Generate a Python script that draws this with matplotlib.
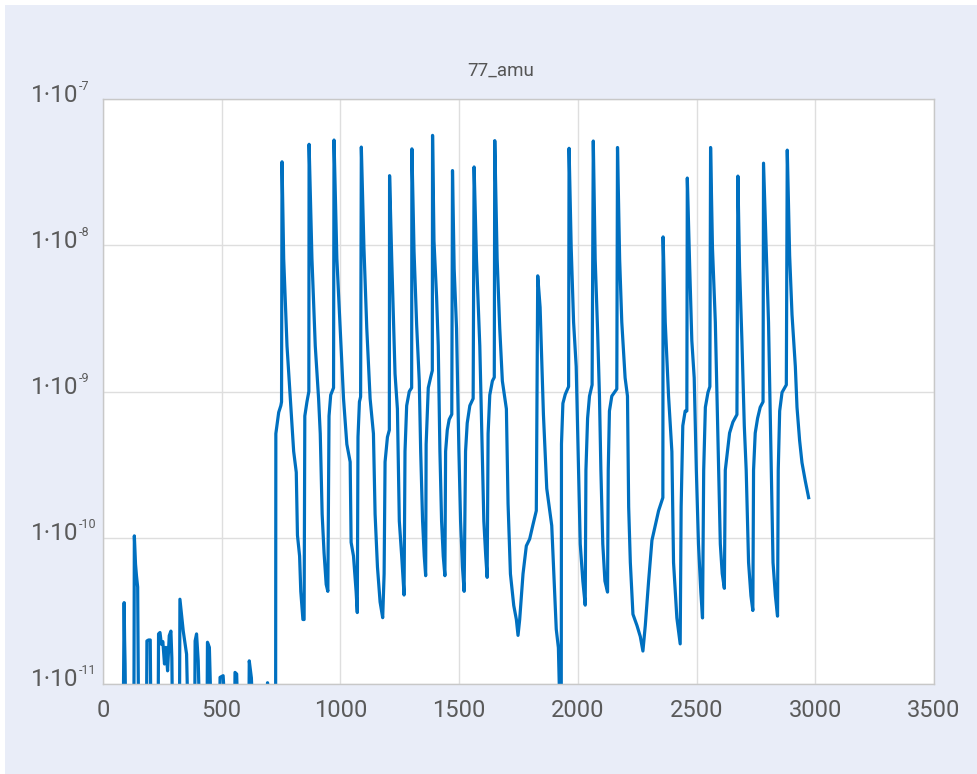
import numpy as np
import matplotlib
matplotlib.use('Agg')
import matplotlib.pyplot as plt
import matplotlib.transforms as mtransforms
from matplotlib.patches import Rectangle

plt.rcParams['font.family'] = ['Roboto', 'DejaVu Sans']

# low-level bursts before the cycling starts (5e-12 = below the axis floor)
baseline_t = [85, 89, 91, 93, 96,
              130, 132, 137, 141, 146, 150,
              183, 185, 192, 199, 202,
              232, 234, 240, 246, 252, 259, 265, 272, 279, 286, 290, 293,
              322, 324, 338, 352, 359,
              386, 388, 394, 401, 408,
              438, 440, 448, 457,
              491, 493, 506, 518,
              554, 556, 563, 569,
              614, 616, 625, 633,
              692, 693, 695, 727]
baseline_v = [5e-12, 3.6e-11, 2.0e-11, 1.37e-11, 5e-12,
              5e-12, 1.03e-10, 6.6e-11, 5.5e-11, 4.6e-11, 5e-12,
              5e-12, 1.97e-11, 2.0e-11, 2.0e-11, 5e-12,
              5e-12, 2.2e-11, 2.25e-11, 1.87e-11, 1.95e-11, 1.37e-11, 1.78e-11, 1.23e-11, 2.14e-11, 2.3e-11, 1.5e-11, 5e-12,
              5e-12, 3.8e-11, 2.3e-11, 1.6e-11, 5e-12,
              5e-12, 1.97e-11, 2.2e-11, 1.44e-11, 5e-12,
              5e-12, 1.93e-11, 1.78e-11, 5e-12,
              5e-12, 1.11e-11, 1.14e-11, 5e-12,
              5e-12, 1.2e-11, 1.17e-11, 5e-12,
              5e-12, 1.44e-11, 1.1e-11, 5e-12,
              5e-12, 1.02e-11, 5e-12, 5e-12]

# main cycling section
cycles_t = [728, 730, 740, 749, 752, 754, 761, 775, 789, 803, 814, 819, 828, 833, 842, 847,
            850, 859, 867, 868, 880, 894, 908, 915, 923, 931, 940, 947,
            952, 959, 971, 973, 985, 999, 1013, 1027, 1041, 1045, 1055, 1066, 1071,
            1074, 1080, 1085, 1088, 1099, 1111, 1125, 1139, 1146, 1156, 1167, 1178, 1184,
            1188, 1198, 1206, 1207, 1216, 1230, 1240, 1248, 1258, 1268,
            1272, 1279, 1290, 1300, 1301, 1310, 1321, 1332, 1338, 1346, 1353, 1359,
            1361, 1370, 1380, 1387, 1388, 1394, 1405, 1412, 1419, 1426, 1433, 1440,
            1443, 1450, 1458, 1469, 1472, 1479, 1489, 1499, 1506, 1514, 1521,
            1527, 1534, 1545, 1559, 1563, 1573, 1587, 1597, 1604, 1612, 1618,
            1622, 1629, 1640, 1648, 1650, 1660, 1671, 1682, 1699, 1706, 1716, 1730, 1741, 1748,
            1755, 1769, 1783, 1797, 1811, 1825, 1831, 1841, 1855, 1869, 1890, 1900, 1909, 1918, 1926,
            1930, 1931, 1937, 1947, 1961, 1963, 1972, 1982, 1993, 2003, 2010, 2021, 2031,
            2034, 2041, 2049, 2060, 2065, 2073, 2083, 2091, 2097, 2105, 2114, 2125,
            2128, 2133, 2143, 2164, 2167, 2176, 2185, 2199, 2209, 2214, 2221, 2232, 2249, 2263, 2274,
            2284, 2298, 2312, 2326, 2340, 2358, 2359, 2368, 2382, 2396, 2403, 2417, 2431,
            2435, 2442, 2452, 2459, 2461, 2471, 2480, 2490, 2499, 2508, 2518, 2525,
            2530, 2537, 2548, 2556, 2559, 2567, 2579, 2593, 2600, 2608, 2617,
            2621, 2628, 2639, 2653, 2670, 2674, 2681, 2691, 2701, 2709, 2719, 2729, 2737,
            2740, 2747, 2757, 2768, 2780, 2782, 2794, 2803, 2813, 2822, 2832, 2841,
            2844, 2850, 2860, 2878, 2882, 2892, 2902, 2916, 2923, 2934, 2944, 2958, 2972]
cycles_v = [5.15e-10, 5.45e-10, 7.2e-10, 8.0e-10, 8.5e-10, 3.72e-8, 8.1e-9, 2.05e-9, 8.95e-10, 3.9e-10, 2.8e-10, 1.04e-10, 7.5e-11, 4.3e-11, 2.76e-11, 2.76e-11,
            6.8e-10, 8.5e-10, 1.0e-9, 4.9e-8, 8.1e-9, 2.05e-9, 8.95e-10, 5.15e-10, 1.45e-10, 7.9e-11, 4.8e-11, 4.3e-11,
            6.8e-10, 9.46e-10, 1.06e-9, 5.24e-8, 8.1e-9, 2.7e-9, 8.95e-10, 4.36e-10, 3.3e-10, 9.3e-11, 7.5e-11, 4.3e-11, 3.08e-11,
            4.88e-10, 8.5e-10, 9.2e-10, 4.69e-8, 9.6e-9, 2.7e-9, 8.95e-10, 5.15e-10, 1.45e-10, 6.3e-11, 3.64e-11, 2.84e-11, 5.66e-11,
            3.3e-10, 4.88e-10, 5.45e-10, 2.99e-8, 8.1e-9, 1.32e-9, 7.6e-10, 1.3e-10, 7.5e-11, 4.06e-11,
            3.9e-10, 8.0e-10, 1.0e-9, 1.06e-9, 4.56e-8, 9.1e-9, 2.86e-9, 1.18e-9, 3.9e-10, 1.3e-10, 7.5e-11, 5.5e-11,
            4.36e-10, 1.06e-9, 1.25e-9, 1.39e-9, 5.64e-8, 1.07e-8, 4.44e-9, 2.05e-9, 3.9e-10, 1.3e-10, 7.5e-11, 5.5e-11,
            3.9e-10, 5.45e-10, 6.43e-10, 6.98e-10, 3.24e-8, 6.9e-9, 2.7e-9, 3.9e-10, 1.3e-10, 6.3e-11, 4.3e-11,
            3.9e-10, 6.08e-10, 8.0e-10, 8.95e-10, 3.43e-8, 8.1e-9, 2.05e-9, 3.9e-10, 1.3e-10, 7.5e-11, 5.36e-11,
            5.15e-10, 9.46e-10, 1.18e-9, 1.25e-9, 5.19e-8, 8.1e-9, 2.7e-9, 1.18e-9, 7.6e-10, 1.71e-10, 5.66e-11, 3.44e-11, 2.76e-11, 2.15e-11,
            2.76e-11, 5.66e-11, 8.8e-11, 9.8e-11, 1.23e-10, 1.53e-10, 6.18e-9, 3.76e-9, 6.95e-10, 2.17e-10, 1.21e-10, 5.06e-11, 2.37e-11, 1.77e-11, 5e-12,
            5e-12, 4.37e-10, 8.3e-10, 9.57e-10, 1.08e-9, 4.6e-8, 9.55e-9, 2.98e-9, 1.48e-9, 2.9e-10, 9.06e-11, 5.06e-11, 3.46e-11,
            2.9e-10, 6.56e-10, 9.3e-10, 1.11e-9, 5.16e-8, 8.0e-9, 2.65e-9, 9.3e-10, 2.9e-10, 9.06e-11, 5.06e-11, 4.25e-11,
            2.9e-10, 7.36e-10, 9.3e-10, 1.04e-9, 4.66e-8, 8.0e-9, 2.98e-9, 1.24e-9, 9.3e-10, 1.62e-10, 6.77e-11, 3.0e-11, 2.51e-11, 2.11e-11, 1.68e-11,
            2.51e-11, 5.06e-11, 9.6e-11, 1.21e-10, 1.53e-10, 1.88e-10, 1.14e-8, 2.98e-9, 9.3e-10, 3.88e-10, 6.77e-11, 2.83e-11, 1.88e-11,
            1.62e-10, 5.83e-10, 7.36e-10, 7.36e-10, 2.88e-8, 7.13e-9, 2.23e-9, 1.24e-9, 2.9e-10, 9.06e-11, 4.25e-11, 2.83e-11,
            2.9e-10, 7.8e-10, 9.86e-10, 1.08e-9, 4.66e-8, 9.55e-9, 2.98e-9, 2.9e-10, 9.06e-11, 5.69e-11, 4.51e-11,
            2.9e-10, 3.66e-10, 5.2e-10, 6.18e-10, 6.95e-10, 2.97e-8, 7.13e-9, 2.23e-9, 5.83e-10, 2.9e-10, 6.77e-11, 4.01e-11, 3.18e-11,
            2.9e-10, 5.2e-10, 6.56e-10, 7.8e-10, 8.5e-10, 3.64e-8, 8.5e-9, 2.98e-9, 3.88e-10, 6.77e-11, 4.01e-11, 2.91e-11,
            2.9e-10, 7.36e-10, 9.86e-10, 1.11e-9, 4.47e-8, 8.5e-9, 3.35e-9, 1.48e-9, 7.8e-10, 4.62e-10, 3.26e-10, 2.44e-10, 1.88e-10]

y_exponents = [-11, -10, -9, -8, -7]
x_ticks = [0, 500, 1000, 1500, 2000, 2500, 3000, 3500]

t = np.array(baseline_t + cycles_t)
v = np.array(baseline_v + cycles_v)

fig = plt.figure(figsize=(9.77, 7.74), dpi=100, facecolor='white')
fig.patches.append(Rectangle((5 / 977, 0), 1, 1 - 5 / 774, transform=fig.transFigure,
                             facecolor='#e9edf8', edgecolor='none', zorder=-10))

ax = fig.add_axes([103 / 977, 90 / 774, 831 / 977, 585 / 774])
ax.set_facecolor('white')
ax.plot(t, v, color='#0070c0', lw=2.3, solid_joinstyle='round')

ax.set_yscale('log')
ax.set_ylim(1e-11, 1e-7)
ax.set_xlim(0, 3500)
ax.set_xticks(x_ticks)
ax.set_yticks([10.0 ** e for e in y_exponents])
ax.set_yticklabels([])
ax.minorticks_off()

ax.grid(True, color='#dedede', lw=1)
ax.set_axisbelow(True)
for s in ax.spines.values():
    s.set_color('#c8c8c8')
    s.set_linewidth(1)
ax.tick_params(length=0, labelsize=17, labelcolor='#5a5a5a')
ax.tick_params(axis='x', pad=11)

# y labels as "1·10" with a small superscript exponent
lab_tr = mtransforms.blended_transform_factory(fig.transFigure, ax.transData)
up = mtransforms.ScaledTranslation(0, 4 / 100, fig.dpi_scale_trans)
up_exp = mtransforms.ScaledTranslation(0, 13 / 100, fig.dpi_scale_trans)
for e in y_exponents:
    fig.text(78 / 977, 10.0 ** e, '1·10', transform=lab_tr + up, ha='right', va='center',
             fontsize=17.5, color='#5a5a5a')
    fig.text(78.5 / 977, 10.0 ** e, '-%d' % -e, transform=lab_tr + up_exp, ha='left', va='center',
             fontsize=9, color='#5a5a5a')

fig.text(501 / 977, 1 - 70.5 / 774, '77_amu', ha='center', va='center', fontsize=13.5, color='#555555')

fig.savefig('out.png', dpi=100, facecolor=fig.get_facecolor())
